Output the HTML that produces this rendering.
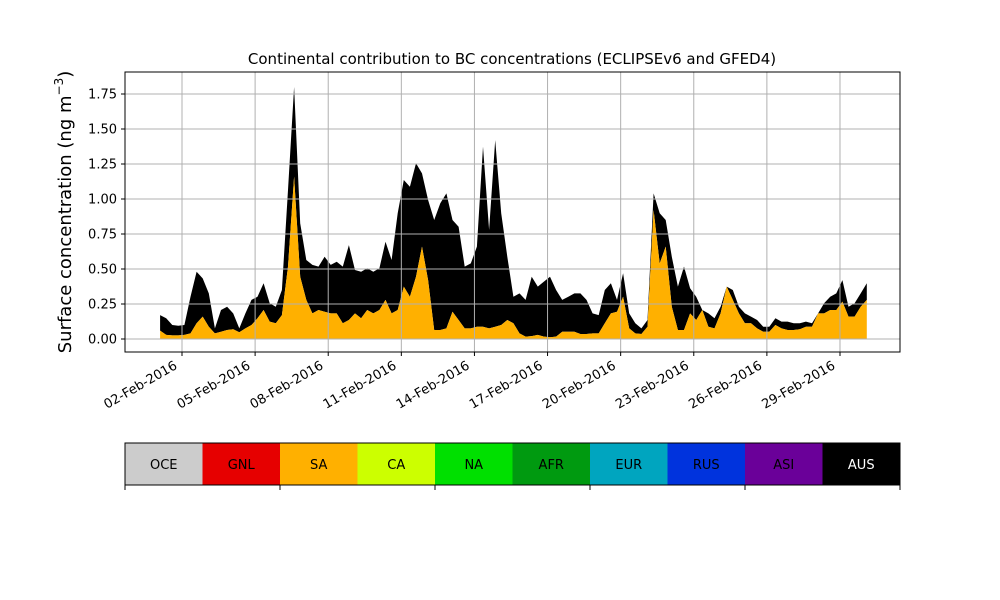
<!DOCTYPE html>
<html><head><meta charset="utf-8"><style>
body{margin:0;background:#fff}
svg{display:block;font-family:"DejaVu Sans","Liberation Sans",sans-serif}
</style></head><body>
<svg id="chart" width="1000" height="600" viewBox="0 0 1000 600">
<rect width="1000" height="600" fill="#fff"/>
<g id="areas"></g>
<g id="grid"></g>
<rect x="125" y="72" width="775" height="280" fill="none" stroke="#000" stroke-width="1"/>
<g id="yaxis"></g>
<g id="xaxis"></g>
<text x="512" y="64" text-anchor="middle" font-size="15">Continental contribution to BC concentrations (ECLIPSEv6 and GFED4)</text>
<text transform="translate(71,212) rotate(-90)" text-anchor="middle" font-size="18">Surface concentration (ng m<tspan dy="-8" font-size="12">−3</tspan><tspan dy="8">)</tspan></text>
<g id="legend"></g>
</svg>
<script>
const startDay = 1.1;   // Feb 1 + ~2.4h
const stepDay = 0.25;   // 6-hourly
const totalConc = [
.171,.148,.100,.095,.100,.302,.481,.433,.326,.076,.207,.231,.183,.076,.183,.279,.302,.398,.255,.231,.35,1.064,1.80,.826,.564,.529,.517,.588,.529,.552,.517,.671,.493,.481,.505,.481,.505,.695,.564,
.898,1.136,1.088,1.255,1.183,.993,.85,.969,1.04,.85,.802,.517,.54,.66,1.374,.779,1.421,.898,.588,.302,.326,.279,.445,.374,.41,.445,.35,.279,.302,.326,.326,.279,.183,.171,.35,.398,.279,.469,.183,
.112,.076,.136,1.04,.898,.85,.588,.374,.517,.362,.302,.183,.183,.148,.231,.362,.35,.231,.183,.16,.136,.088,.088,.148,.124,.124,.112,.112,.124,.112,.183,.255,.302,.326,.421,.231,.255,.326,.398];
const saValues = [
.06,.029,.026,.026,.029,.04,.112,.16,.088,.04,.052,.064,.069,.048,.076,.10,.148,.207,.124,.112,.171,.517,1.16,.445,.279,.183,.207,.195,.183,.183,.112,.136,.183,.148,.207,.183,.207,.279,.183,
.207,.374,.302,.445,.66,.421,.064,.064,.076,.195,.136,.076,.076,.088,.088,.076,.088,.10,.136,.112,.04,.017,.021,.029,.017,.012,.017,.052,.052,.052,.036,.036,.04,.04,.112,.183,.195,.302,.076,
.04,.036,.088,.921,.54,.66,.231,.064,.064,.183,.136,.207,.088,.076,.183,.374,.279,.183,.112,.112,.076,.052,.052,.10,.076,.064,.064,.069,.088,.088,.183,.183,.207,.207,.267,.16,.16,.231,.279];
const ausValues = totalConc.map((t,i)=>Math.max(0,t-saValues[i]));
const yTicks = [0,0.25,0.5,0.75,1.0,1.25,1.5,1.75];
const xTickDays = [2,5,8,11,14,17,20,23,26,29];
const xTickLabels = ["02-Feb-2016","05-Feb-2016","08-Feb-2016","11-Feb-2016","14-Feb-2016","17-Feb-2016","20-Feb-2016","23-Feb-2016","26-Feb-2016","29-Feb-2016"];
const regions = ["OCE","GNL","SA","CA","NA","AFR","EUR","RUS","ASI","AUS"];
const regionColors = ["#cccccc","#e60000","#ffb000","#ccff00","#00e000","#009a10","#00a5bf","#0033dd","#6a0099","#000000"];

const NS="http://www.w3.org/2000/svg";
const xOf = d => 182 + (d-2)*24.37;
const yOf = v => 339 - 140*v;
function mk(tag, attrs, parent){const e=document.createElementNS(NS,tag);for(const k in attrs)e.setAttribute(k,attrs[k]);parent.appendChild(e);return e;}
const grid=document.getElementById('grid'), yax=document.getElementById('yaxis'), xax=document.getElementById('xaxis'), areas=document.getElementById('areas'), leg=document.getElementById('legend');

yTicks.forEach(v=>{
  const g=mk('line',{x1:125,x2:900,y1:yOf(v),y2:yOf(v),stroke:'#b0b0b0','stroke-width':1},grid);
  
  
  mk('line',{x1:121,x2:125,y1:yOf(v),y2:yOf(v),stroke:'#000'},yax);
  const t=mk('text',{x:117,y:yOf(v)+4.5,'text-anchor':'end','font-size':13},yax);
  t.textContent=v.toFixed(2);
  
  
});
xTickDays.forEach((d,i)=>{
  const x=xOf(d);
  const g=mk('line',{x1:x,x2:x,y1:72,y2:352,stroke:'#b0b0b0','stroke-width':1},grid);
  
  
  mk('line',{x1:x,x2:x,y1:352,y2:356,stroke:'#000'},xax);
  const t=mk('text',{transform:`translate(${x-4},${368}) rotate(-30)`,'text-anchor':'end','font-size':13},xax);
  t.textContent=xTickLabels[i];
  
  
});

function areaPath(lower, upper){
  let p='';
  upper.forEach((v,i)=>{p+=(i?'L':'M')+xOf(startDay+i*stepDay).toFixed(1)+','+yOf(v).toFixed(1);});
  for(let i=lower.length-1;i>=0;i--) p+='L'+xOf(startDay+i*stepDay).toFixed(1)+','+yOf(lower[i]).toFixed(1);
  return p+'Z';
}
const zeros=saValues.map(()=>0);
const saTop=saValues.slice();
const ausTop=saValues.map((v,i)=>v+ausValues[i]);
const aus=mk('path',{d:areaPath(saTop,ausTop),fill:'#000'},areas);


const sa=mk('path',{d:areaPath(zeros,saTop),fill:'#ffb000'},areas);



regions.forEach((r,i)=>{
  const x=125+i*77.5;
  const c=mk('rect',{x:x,y:443,width:77.6,height:42,fill:regionColors[i]},leg);
  
  
  const t=mk('text',{x:x+38.75,y:469,'text-anchor':'middle','font-size':13,fill:(r==='AUS'?'#fff':'#000')},leg);
  t.textContent=r;
  
  
});
mk('rect',{x:125,y:443,width:775,height:42,fill:'none',stroke:'#000'},leg);
[0,2,4,6,8,10].forEach(i=>{const x=125+i*77.5;mk('line',{x1:x,x2:x,y1:485,y2:490,stroke:'#000'},leg);});
</script>
</body></html>
